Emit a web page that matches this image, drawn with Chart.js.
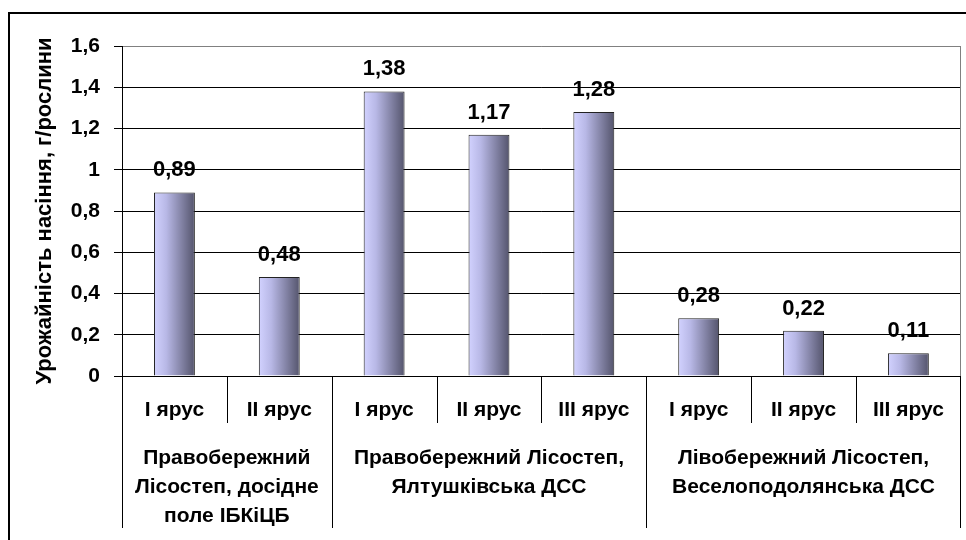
<!DOCTYPE html>
<html>
<head>
<meta charset="utf-8">
<script src="https://cdn.jsdelivr.net/npm/chart.js@4/dist/chart.umd.min.js"></script>
<style>
  html, body { margin: 0; padding: 0; background: #fff; }
  #wrap { width: 966px; height: 540px; position: relative; }
</style>
</head>
<body>
<div id="wrap"><canvas id="c" width="966" height="540"></canvas></div>
<script>
// Seed yield per plant by crown tier, grouped by site
const tiers = ['І ярус', 'ІІ ярус', 'І ярус', 'ІІ ярус', 'ІІІ ярус', 'І ярус', 'ІІ ярус', 'ІІІ ярус'];
const yieldValues = [0.89, 0.48, 1.38, 1.17, 1.28, 0.28, 0.22, 0.11];
const siteNames = [
  ['Правобережний', 'Лісостеп, досідне', 'поле ІБКіЦБ'],
  ['Правобережний Лісостеп,', 'Ялтушківська ДСС'],
  ['Лівобережний Лісостеп,', 'Веселоподолянська ДСС']
];
const siteSizes = [2, 3, 3];
const yTitle = 'Урожайність насіння, г/рослини';

const FONT = 'Arial, "Liberation Sans", sans-serif';
const BAR_PCT = 0.39;

function fmt(v) { return String(v).replace('.', ','); }

// Frame around the whole drawing
const framePlugin = {
  id: 'frame',
  beforeDraw(chart) {
    const ctx = chart.ctx;
    ctx.save();
    ctx.strokeStyle = '#000';
    ctx.lineWidth = 2;
    ctx.strokeRect(9, 13, 1000, 600);
    ctx.restore();
  }
};

// Plot border (right) and the two-level category axis below the plot
const axisPlugin = {
  id: 'groupAxis',
  afterDraw(chart) {
    const ctx = chart.ctx;
    const xs = chart.scales.x;
    const area = chart.chartArea;
    const n = tiers.length;
    const step = xs.width / n;
    const edge = i => Math.round(xs.left + step * i) + 0.5;
    ctx.save();
    ctx.strokeStyle = '#808080';
    ctx.lineWidth = 1;
    ctx.beginPath();
    ctx.moveTo(Math.round(area.right) - 0.5, area.top);
    ctx.lineTo(Math.round(area.right) - 0.5, area.bottom);
    ctx.stroke();
    // separators: short ones between tiers, long ones between sites
    const bounds = new Set([0]);
    let acc = 0;
    siteSizes.forEach(s => { acc += s; bounds.add(acc); });
    ctx.strokeStyle = '#000';
    for (let i = 0; i <= n; i++) {
      const x = i === n ? Math.round(area.right) - 0.5 : edge(i);
      const long = bounds.has(i);
      ctx.beginPath();
      ctx.moveTo(x, area.bottom);
      ctx.lineTo(x, area.bottom + (long ? 152 : 47));
      ctx.stroke();
    }
    // site names
    ctx.fillStyle = '#000';
    ctx.font = 'bold 21px ' + FONT;
    ctx.textAlign = 'center';
    ctx.textBaseline = 'middle';
    let start = 0;
    siteNames.forEach((lines, g) => {
      const cx = xs.left + step * (start + siteSizes[g] / 2);
      lines.forEach((t, k) => ctx.fillText(t, cx, area.bottom + 82 + k * 29));
      start += siteSizes[g];
    });
    ctx.restore();
  }
};

// Value labels above bars
const valuePlugin = {
  id: 'values',
  afterDatasetsDraw(chart) {
    const ctx = chart.ctx;
    const meta = chart.getDatasetMeta(0);
    ctx.save();
    ctx.fillStyle = '#000';
    ctx.font = 'bold 22px ' + FONT;
    ctx.textAlign = 'center';
    ctx.textBaseline = 'alphabetic';
    meta.data.forEach((bar, i) => {
      ctx.fillText(fmt(yieldValues[i]), bar.x, bar.y - 16);
    });
    ctx.restore();
  }
};

function barGradient(context) {
  const chart = context.chart;
  const xs = chart.scales.x;
  if (!chart.chartArea || !xs || !isFinite(xs.width) || xs.width <= 0) return '#9a9ac8';
  const step = xs.width / tiers.length;
  const cx = xs.left + step * (context.dataIndex + 0.5);
  const w = step * BAR_PCT;
  const g = chart.ctx.createLinearGradient(cx - w / 2, 0, cx + w / 2, 0);
  g.addColorStop(0, '#d2d2ff');
  g.addColorStop(0.3, '#b8b8e6');
  g.addColorStop(1, '#54546c');
  return g;
}

new Chart(document.getElementById('c'), {
  type: 'bar',
  data: {
    labels: tiers,
    datasets: [{
      data: yieldValues,
      backgroundColor: barGradient,
      borderColor: '#222',
      borderWidth: 1,
      borderSkipped: 'bottom',
      barPercentage: BAR_PCT,
      categoryPercentage: 1
    }]
  },
  options: {
    responsive: false,
    animation: false,
    events: [],
    layout: { padding: { left: 0, top: 46, right: 2, bottom: 0 } },
    plugins: { legend: { display: false }, tooltip: { enabled: false } },
    scales: {
      x: {
        grid: { display: false, drawTicks: false },
        border: { display: true, color: '#000', width: 1 },
        ticks: {
          color: '#000',
          font: { family: FONT, size: 21, weight: 'bold' },
          padding: 22,
          maxRotation: 0,
          autoSkip: false
        },
        afterFit(scale) { scale.height = 164; }
      },
      y: {
        min: 0,
        max: 1.6,
        ticks: {
          stepSize: 0.2,
          color: '#000',
          font: { family: FONT, size: 21, weight: 'bold' },
          padding: 14,
          callback: v => fmt(Math.round(v * 10) / 10)
        },
        grid: {
          color: c => (c.tick && Math.abs(c.tick.value - 1.6) < 1e-6) ? '#808080' : '#000',
          tickColor: '#000',
          tickLength: 8,
          lineWidth: 1
        },
        border: { display: true, color: '#000', width: 1 },
        title: {
          display: true,
          text: yTitle,
          color: '#000',
          font: { family: FONT, size: 22, weight: 'bold' },
          padding: { top: 32, bottom: 0 }
        },
        afterFit(scale) { scale.width = 122; }
      }
    }
  },
  plugins: [framePlugin, axisPlugin, valuePlugin]
});
</script>
</body>
</html>
